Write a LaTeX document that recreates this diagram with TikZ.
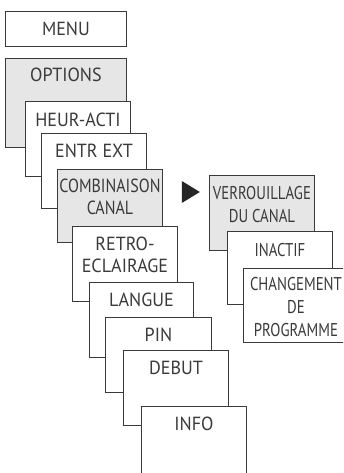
\documentclass[tikz,border=0pt]{standalone}
\usepackage{fontspec}
\setmainfont[FakeStretch=0.95]{PT Sans}
\newfontfamily\narrowfont[FakeStretch=0.8]{PT Sans}
\newfontfamily\combfont[FakeStretch=0.84]{PT Sans}
\usetikzlibrary{positioning,shapes.geometric}
\definecolor{cardgray}{HTML}{E6E6E6}
\definecolor{cardline}{HTML}{3A3A3A}
\tikzstyle{card} = [rectangle, draw=cardline, line width=0.9pt, anchor=north west, minimum width=105pt, minimum height=75pt, inner sep=0pt, fill=white]
\tikzstyle{card_sel} = [card, fill=cardgray]
\tikzstyle{card_text} = [inner sep=0pt, align=center, text=cardline, font=\fontsize{19}{22}\selectfont]
\tikzstyle{card_text_narrow} = [card_text, font=\narrowfont\fontsize{18.5}{23}\selectfont]

\begin{document}
\begin{tikzpicture}[x=1pt, y=-1pt]
		\useasboundingbox (0,0) rectangle (343,473);
		\clip (0,0) rectangle (343,473);
		% main menu
		\node (menu) at (5,11) [card, minimum width=121pt, minimum height=35pt] {};
		\node (options) at (5,58) [card_sel, minimum width=121pt, minimum height=89pt] {};
		\node (heur) at (25,101) [card] {};
		\node (entr) at (41,133) [card] {};
		\node (comb) at (57,169) [card_sel, minimum height=73pt] {};
		\node (retro) at (72,226) [card] {};
		\node (langue) at (89,282) [card, minimum width=104pt] {};
		\node (pin) at (105,317) [card, minimum width=106pt] {};
		\node (debut) at (123,350) [card] {};
		\node (info) at (141,406) [card, minimum height=90pt] {};
		% submenu
		\node (verr) at (209,175) [card_sel] {};
		\node (inactif) at (227,231) [card, minimum height=73pt] {};
		\node (chang) at (243,268) [card, minimum height=74pt] {};
		\node (arrow) at (188,192) [isosceles triangle, isosceles triangle stretches, fill=black!85, inner sep=0pt, minimum height=18pt, minimum width=22pt] {};
		% texts
		\node (menu_t) [card_text] at (menu.center) {MENU};
		\node (options_t) [card_text, below=10pt of options.north] {OPTIONS};
		\node (heur_t) [card_text, below=12pt of heur.north] {HEUR-ACTI};
		\node (entr_t) [card_text, below=11pt of entr.north] {ENTR EXT};
		\node (comb_t) [card_text, font=\combfont\fontsize{19}{22}\selectfont, below=10pt of comb.north] {COMBINAISON\\CANAL};
		\node (retro_t) [card_text, below=11pt of retro.north] {RETRO-\\ECLAIRAGE};
		\node (langue_t) [card_text, below=11pt of langue.north] {LANGUE};
		\node (pin_t) [card_text, below=11pt of pin.north] {PIN};
		\node (debut_t) [card_text, below=11pt of debut.north] {DEBUT};
		\node (info_t) [card_text, below=11pt of info.north] {INFO};
		\node (verr_t) [card_text_narrow, below=11pt of verr.north] {VERROUILLAGE\\DU CANAL};
		\node (inactif_t) [card_text_narrow, below=12pt of inactif.north] {INACTIF};
		\node (chang_t) [card_text_narrow, below=9pt of chang.north] {CHANGEMENT\\DE\\PROGRAMME};
\end{tikzpicture}
\end{document}
